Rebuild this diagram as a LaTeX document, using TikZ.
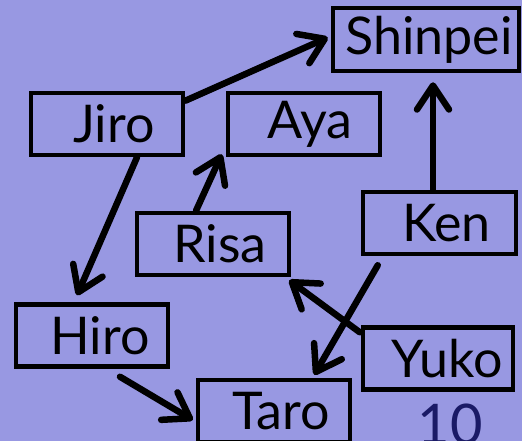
\documentclass[tikz,border=0pt]{standalone}
\usepackage{fontspec}
\setmainfont{Lato}
\usetikzlibrary{arrows.meta,calc}
\definecolor{bgpurple}{RGB}{152,152,226}
\definecolor{navy}{RGB}{26,26,102}
\begin{document}
\begin{tikzpicture}[x=1pt,y=-1pt,
  person/.style={draw=black,line width=4.5pt,rectangle,minimum width=152pt,minimum height=62pt,inner sep=0pt,font=\fontsize{52}{52}\selectfont},
  arr/.style={line width=6.5pt,line cap=round,line join=round,-{Straight Barb[length=24pt,width=32pt,line cap=round,line join=round]}}]
\fill[bgpurple] (0,0) rectangle (522,441);
\useasboundingbox (0,0) rectangle (522,441);
\node[person,minimum width=186pt,minimum height=63pt] (Shinpei) at (426,39.5) {\hspace{6pt}Shinpei};
\node[person] (Jiro) at (107,124) {\hspace{14pt}Jiro};
\node[person] (Aya) at (304,124) {\hspace{12pt}Aya};
\node[person] (Risa) at (213,244) {\hspace{14pt}Risa};
\node[person,minimum width=153pt] (Ken) at (439.5,223) {\hspace{14pt}Ken};
\node[person] (Hiro) at (92,335.5) {\hspace{16pt}Hiro};
\node[person,minimum width=150pt] (Yuko) at (438,358.5) {\hspace{18pt}Yuko};
\node[person] (Taro) at (274,411) {\hspace{14pt}Taro};
\node[font=\fontsize{56}{56}\selectfont,text=navy,anchor=base,inner sep=0pt] (num) at (450,444) {10};
\draw[arr] ($(Jiro.north east)+(0,10)$) -- ($(Shinpei.west)+(-3,-2)$);
\draw[arr] ($(Ken.north)+(-6.5,0)$) -- ($(Shinpei.south)+(7,9)$);
\draw[arr] ($(Risa.north)+(-17,0)$) -- ($(Aya.south west)+(-4,-3)$);
\draw[arr] ($(Jiro.south)+(30,0)$) -- ($(Hiro.north)+(-15,-7)$);
\draw[arr] ($(Hiro.south)+(28,8)$) -- ($(Taro.west)+(-3,9)$);
\draw[arr] ($(Yuko.north west)+(-1,7)$) -- ($(Risa.south east)+(-2,3)$);
\draw[arr] ($(Ken.south west)+(17,9)$) -- ($(Taro.north east)+(-38,-3)$);
\end{tikzpicture}
\end{document}
